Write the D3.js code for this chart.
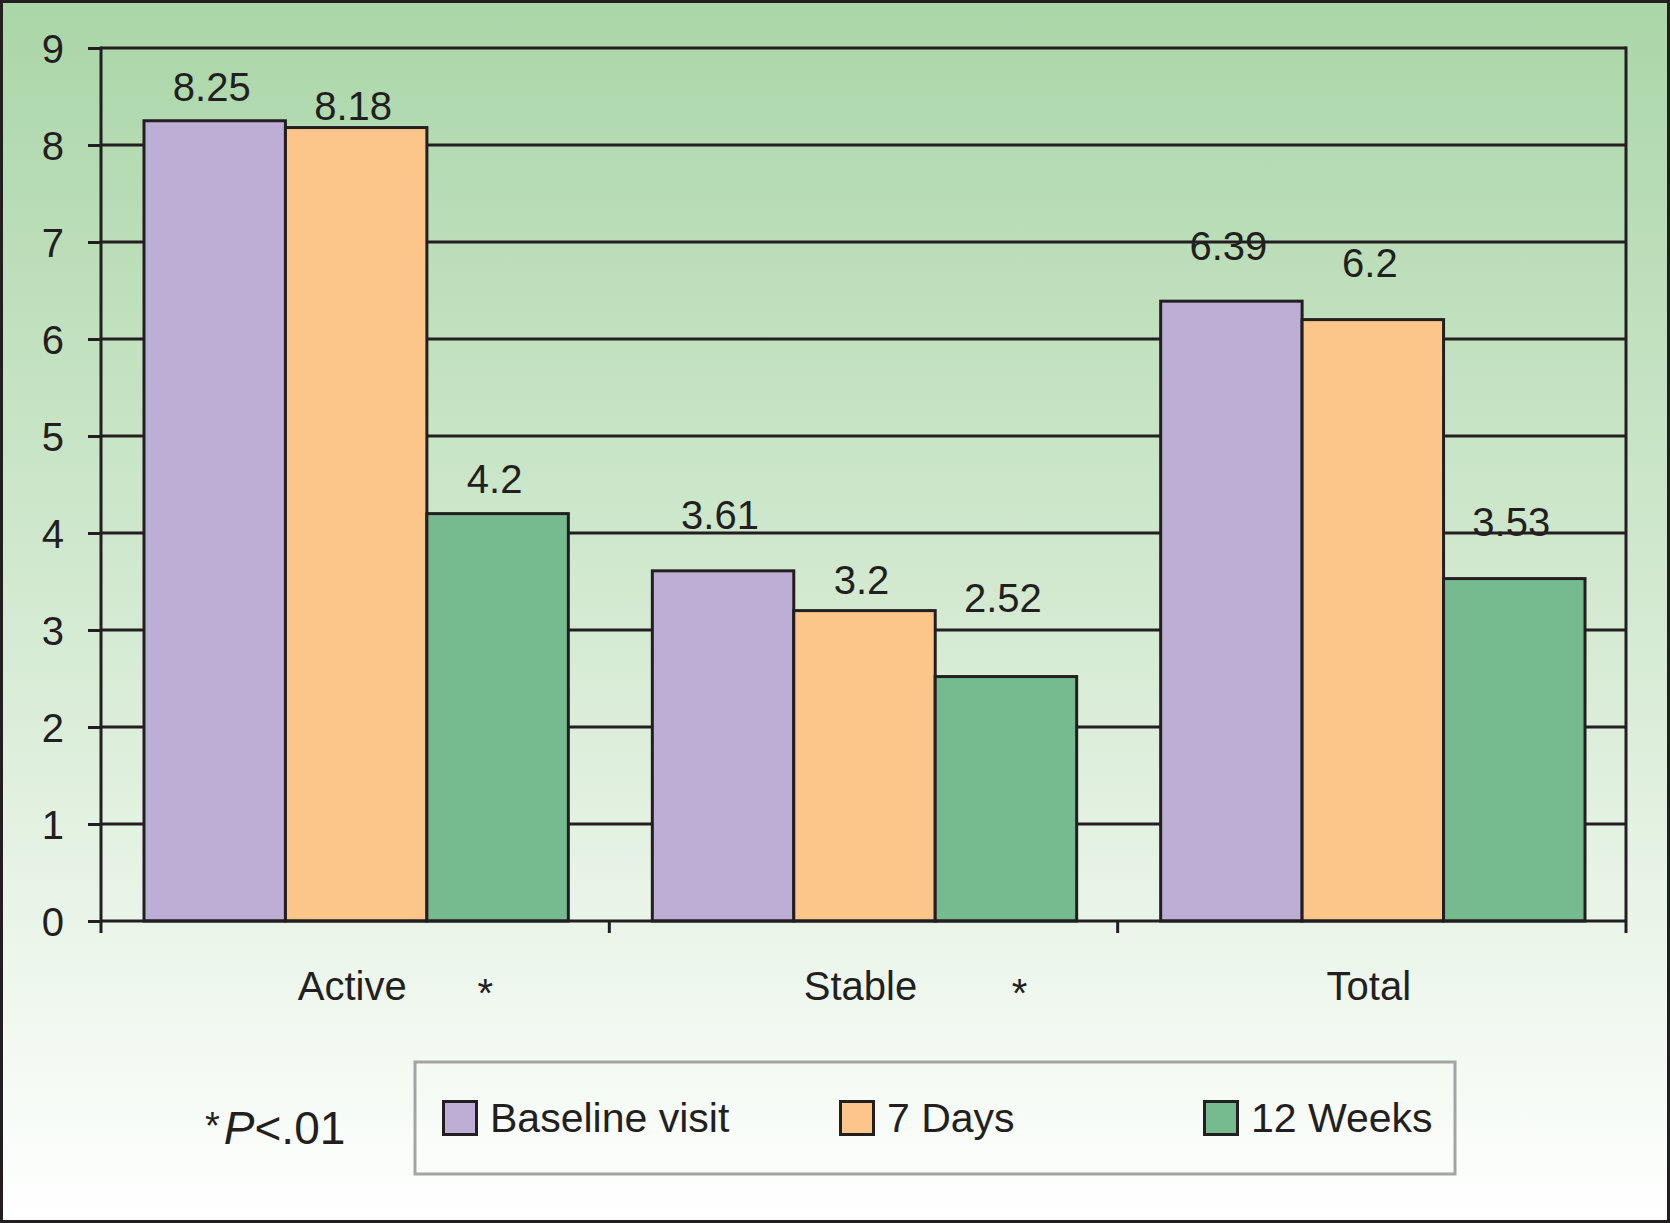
<!DOCTYPE html>
<html lang="en">
<head>
    <meta charset="UTF-8">
    <title>Grouped Bar Chart</title>
    <script src="https://d3js.org/d3.v7.min.js"></script>
    <style>
        body { margin: 0; background: #fff; }
        svg { display: block; font-family: "Liberation Sans", Arial, sans-serif; }
    </style>
</head>
<body>
    <script>
        // Data
        const categories = ["Active", "Stable", "Total"];
        const series = ["Baseline visit", "7 Days", "12 Weeks"];
        const baseline = [8.25, 3.61, 6.39];
        const days7 = [8.18, 3.2, 6.2];
        const weeks12 = [4.2, 2.52, 3.53];
        const yTicks = [0, 1, 2, 3, 4, 5, 6, 7, 8, 9];
        const starred = ["Active", "Stable"];
        const footnote = "P<.01";

        const values = [baseline, days7, weeks12];
        const rows = categories.map((c, i) => ({
            category: c,
            bars: series.map((s, j) => ({ series: s, value: values[j][i], j: j }))
        }));

        // how far each value label sits above its bar (as placed in the original)
        const labelLift = [[20, 8, 21], [42, 17, 65], [41, 43, 43]];
        const starOffset = { Active: 130, Stable: 156 };

        const width = 1670, height = 1223;
        const plot = { left: 101, right: 1626, top: 48, bottom: 921 };

        const svg = d3.select("body").append("svg")
            .attr("width", width)
            .attr("height", height);

        // Background gradient
        const grad = svg.append("defs").append("linearGradient")
            .attr("id", "bg").attr("x1", 0).attr("y1", 0).attr("x2", 0).attr("y2", 1);
        grad.append("stop").attr("offset", "0%").attr("stop-color", "#aad6a8");
        grad.append("stop").attr("offset", "55%").attr("stop-color", "#d8ecd6");
        grad.append("stop").attr("offset", "100%").attr("stop-color", "#ffffff");

        svg.append("rect")
            .attr("x", 1.5).attr("y", 1.5)
            .attr("width", width - 3).attr("height", height - 3)
            .attr("fill", "url(#bg)")
            .attr("stroke", "#231f20")
            .attr("stroke-width", 3);

        const color = d3.scaleOrdinal()
            .domain(series)
            .range(["#bdaed5", "#fcc68a", "#76bb8f"]);

        const x0 = d3.scaleBand()
            .domain(categories)
            .range([plot.left, plot.right])
            .padding(0);

        const x1 = d3.scaleBand()
            .domain(series)
            .range([43, x0.bandwidth() - 41])
            .padding(0);

        const y = d3.scaleLinear()
            .domain([0, 9])
            .range([plot.bottom, plot.top]);

        const ink = "#231f20";

        // Gridlines (behind bars)
        svg.append("g").selectAll("line")
            .data(yTicks.filter(d => d > 0))
            .join("line")
            .attr("x1", plot.left).attr("x2", plot.right)
            .attr("y1", d => y(d)).attr("y2", d => y(d))
            .attr("stroke", ink).attr("stroke-width", 3);

        // Right border of plot
        svg.append("line")
            .attr("x1", plot.right).attr("x2", plot.right)
            .attr("y1", plot.top - 1.5).attr("y2", plot.bottom + 12)
            .attr("stroke", ink).attr("stroke-width", 3);

        // Bars
        const groups = svg.append("g").selectAll("g")
            .data(rows)
            .join("g")
            .attr("transform", d => `translate(${x0(d.category)},0)`);

        groups.selectAll("rect")
            .data(d => d.bars)
            .join("rect")
            .attr("x", d => x1(d.series))
            .attr("y", d => y(d.value))
            .attr("width", x1.bandwidth())
            .attr("height", d => y(0) - y(d.value))
            .attr("fill", d => color(d.series))
            .attr("stroke", ink)
            .attr("stroke-width", 3);

        // Value labels
        groups.each(function(row, i) {
            d3.select(this).selectAll("text")
                .data(row.bars)
                .join("text")
                .attr("x", d => x1(d.series) + x1.bandwidth() / 2 - 3)
                .attr("y", d => y(d.value) - labelLift[i][d.j])
                .attr("text-anchor", "middle")
                .attr("font-size", 40)
                .attr("fill", ink)
                .text(d => d.value);
        });

        // Y axis
        const yAxis = svg.append("g")
            .attr("transform", `translate(${plot.left},0)`)
            .call(d3.axisLeft(y).tickValues(yTicks).tickSize(13).tickPadding(24).tickFormat(d3.format("d")));
        yAxis.select(".domain")
            .attr("d", `M0,${plot.top - 1.5}V${plot.bottom + 12}`)
            .attr("stroke", ink).attr("stroke-width", 3);
        yAxis.selectAll(".tick line").attr("stroke", ink).attr("stroke-width", 3);
        yAxis.selectAll(".tick text")
            .attr("font-size", 40).attr("fill", ink)
            .attr("font-family", "Liberation Sans, Arial, sans-serif")
            .attr("dy", "0.36em");

        // X axis baseline
        svg.append("line")
            .attr("x1", plot.left).attr("x2", plot.right)
            .attr("y1", plot.bottom).attr("y2", plot.bottom)
            .attr("stroke", ink).attr("stroke-width", 3);

        // Category boundary ticks
        svg.append("g").selectAll("line")
            .data(categories.slice(1).map(c => x0(c)))
            .join("line")
            .attr("x1", d => d).attr("x2", d => d)
            .attr("y1", plot.bottom).attr("y2", plot.bottom + 12)
            .attr("stroke", ink).attr("stroke-width", 3);

        // Category labels
        const xAxis = svg.append("g")
            .attr("transform", `translate(0,${plot.bottom})`)
            .call(d3.axisBottom(x0).tickSize(0).tickPadding(0));
        xAxis.select(".domain").remove();
        xAxis.selectAll(".tick text")
            .attr("font-size", 40).attr("fill", ink)
            .attr("font-family", "Liberation Sans, Arial, sans-serif")
            .attr("y", 79).attr("dy", 0)
            .attr("dx", -3);

        // Significance stars
        svg.append("g").selectAll("text")
            .data(starred)
            .join("text")
            .attr("x", d => x0(d) + x0.bandwidth() / 2 + starOffset[d])
            .attr("y", 1007)
            .attr("text-anchor", "middle")
            .attr("font-size", 40)
            .attr("fill", ink)
            .text("*");

        // Footnote
        const foot = svg.append("text")
            .attr("x", 205).attr("y", 1144)
            .attr("font-size", 46)
            .attr("fill", ink);
        foot.append("tspan").attr("font-size", 38).attr("dy", -5).text("*");
        foot.append("tspan").attr("dy", 5).attr("dx", 4).attr("font-style", "italic").text(footnote[0]);
        foot.append("tspan").text(footnote.slice(1));

        // Legend
        const legend = svg.append("g");
        legend.append("rect")
            .attr("x", 415).attr("y", 1062)
            .attr("width", 1040).attr("height", 112)
            .attr("fill", "none")
            .attr("stroke", "#a3a5a4")
            .attr("stroke-width", 3);

        const legendX = d3.scaleOrdinal().domain(series).range([442, 839, 1203]);

        const items = legend.selectAll("g.item")
            .data(series)
            .join("g")
            .attr("class", "item")
            .attr("transform", d => `translate(${legendX(d)},1100)`);

        items.append("rect")
            .attr("x", 1.5).attr("y", 1.5)
            .attr("width", 33).attr("height", 33)
            .attr("fill", d => color(d))
            .attr("stroke", ink)
            .attr("stroke-width", 3);

        items.append("text")
            .attr("x", 48).attr("y", 32)
            .attr("font-size", 41)
            .attr("fill", ink)
            .text(d => d);
    </script>
</body>
</html>
